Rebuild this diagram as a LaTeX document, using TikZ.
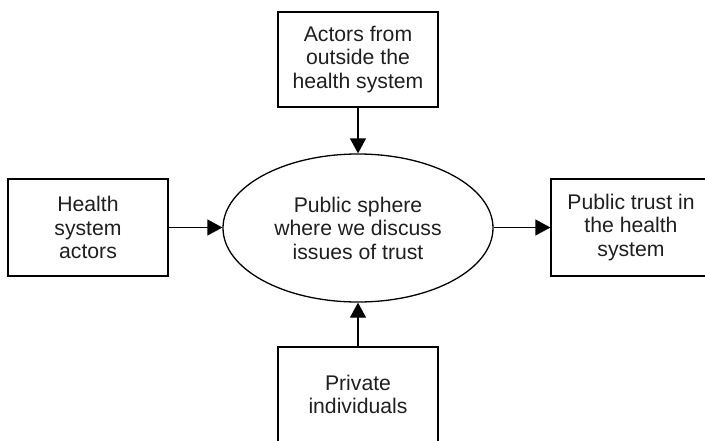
\documentclass[tikz,border=0pt]{standalone}
\usepackage{fontspec}
\setmainfont{Liberation Sans}
\usetikzlibrary{arrows.meta,shapes.geometric}
\begin{document}
\begin{tikzpicture}[x=1pt,y=-1pt,
  every node/.style={font=\fontsize{21.2pt}{23.5pt}\selectfont, text=black!88, align=center, inner sep=0pt},
  textdrop/.style={execute at begin node={\rule{0pt}{#1}}},
  box/.style={draw, line width=1.3pt, rectangle, minimum width=160pt},
  oval/.style={draw, line width=1.3pt, ellipse, minimum width=270pt, minimum height=148pt},
  arr/.style={line width=1.3pt, -{Triangle[length=15pt,width=16pt]}}]
  \clip (0,0) rectangle (705,440);
  \useasboundingbox (0,0) rectangle (705,440);

  % central public sphere
  \node[oval, textdrop=20pt] (sphere) at (358,228)
    {Public sphere\\where we discuss\\issues of trust};

  % actors feeding into it
  \node[box, minimum height=95pt, textdrop=25.4pt] (outside) at (358,59.5)
    {Actors from\\outside the\\health system};
  \node[box, minimum height=97pt, textdrop=23pt] (health) at (88,227.5)
    {Health\\system\\actors};
  \node[box, minimum height=95pt, textdrop=19pt] (private) at (358,394.5)
    {Private\\individuals};

  % outcome
  \node[box, minimum height=97pt, textdrop=17pt] (trust) at (631,227.5)
    {Public trust in\\the health\\system};

  % connectors
  \draw[arr] (outside.south) -- (sphere.north);
  \draw[arr] (private.north) -- (sphere.south);
  \draw[arr] (health.east) -- (health.east -| sphere.west);
  \draw[arr] (trust.west -| sphere.east) -- (trust.west);
\end{tikzpicture}
\end{document}
